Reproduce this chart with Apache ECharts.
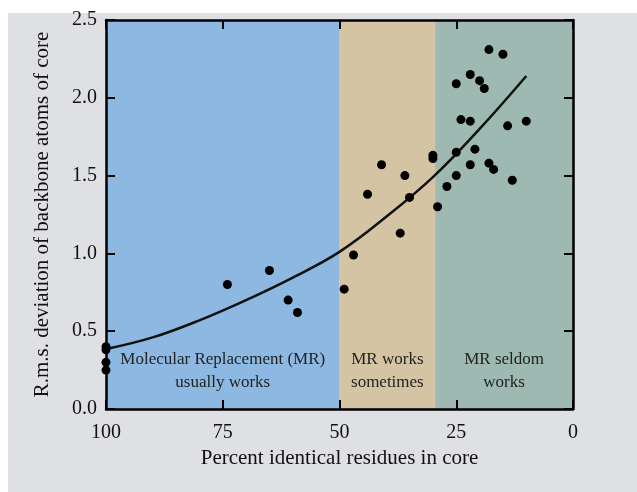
<!DOCTYPE html>
<html>
<head>
<meta charset="utf-8">
<script src="https://cdn.jsdelivr.net/npm/echarts@6/dist/echarts.min.js"></script>
<style>
html,body{margin:0;padding:0;background:#ffffff;}
#chart{width:637px;height:492px;}
</style>
</head>
<body>
<div id="chart"></div>
<script>
// Scatter data (percent identity, rms deviation)
const pointX = [18,15,22,20,25,19,24,22,14,10,21,25,30,30,41,22,18,17,36,25,13,27,44,35,29,37,47,49,74,65,61,59,100,100,100,100];
const pointY = [2.31,2.28,2.15,2.11,2.09,2.06,1.86,1.85,1.82,1.85,1.67,1.65,1.63,1.61,1.57,1.57,1.58,1.54,1.50,1.50,1.47,1.43,1.38,1.36,1.30,1.13,0.99,0.77,0.80,0.89,0.70,0.62,0.40,0.38,0.30,0.25];
// Trend curve
const fitX = [100,90,80,70,60,50,40,30,20,10];
const fitY = [0.385,0.46,0.57,0.70,0.845,1.01,1.235,1.49,1.80,2.14];
// Regions
const bandEdges = [100, 50, 29.5, 0];
const bandLabels = ['Molecular Replacement (MR)\nusually works', 'MR works\nsometimes', 'MR seldom\nworks'];
const bandColors = ['#8cb8e1', '#d4c4a3', '#9db9b2'];
const xTicks = [100, 75, 50, 25, 0];
const yTicks = [0.0, 0.5, 1.0, 1.5, 2.0, 2.5];

const font = '"Liberation Serif", "Times New Roman", serif';
const chart = echarts.init(document.getElementById('chart'), null, {renderer: 'canvas'});

const scatterData = pointX.map((x, i) => [x, pointY[i]]);
const fitData = fitX.map((x, i) => [x, fitY[i]]);
const areas = bandLabels.map((lab, i) => [
  {xAxis: bandEdges[i], itemStyle: {color: bandColors[i], opacity: 1},
   label: {show: true, formatter: lab}},
  {xAxis: bandEdges[i + 1]}
]);

const axisCommonX = {
  type: 'value', min: 0, max: 100, interval: 25, inverse: true, z: 10,
  axisLine: {show: true, onZero: false, lineStyle: {color: '#000', width: 2.5}},
  axisTick: {show: true, inside: true, length: 9, lineStyle: {color: '#000', width: 2}},
  splitLine: {show: false}
};
const axisCommonY = {
  type: 'value', min: 0, max: 2.5, interval: 0.5, z: 10,
  axisLine: {show: true, onZero: false, lineStyle: {color: '#000', width: 2.5}},
  axisTick: {show: true, inside: true, length: 9, lineStyle: {color: '#000', width: 2}},
  splitLine: {show: false}
};

chart.setOption({
  backgroundColor: '#ffffff',
  animation: false,
  graphic: [{
    type: 'rect', z: -100, silent: true,
    shape: {x: 8, y: 13, width: 629, height: 479},
    style: {fill: '#dfe0e4'}
  }],
  grid: {left: 106, right: 64, top: 20, bottom: 83},
  xAxis: [
    Object.assign({}, axisCommonX, {
      position: 'bottom',
      name: 'Percent identical residues in core',
      nameLocation: 'middle', nameGap: 39,
      nameTextStyle: {fontFamily: font, fontSize: 21, color: '#111'},
      axisLabel: {show: true, margin: 14, fontFamily: font, fontSize: 20, color: '#111',
        formatter: v => xTicks.includes(v) ? String(v) : ''}
    }),
    Object.assign({}, axisCommonX, {position: 'top', axisLabel: {show: false}})
  ],
  yAxis: [
    Object.assign({}, axisCommonY, {
      position: 'left',
      name: 'R.m.s. deviation of backbone atoms of core',
      nameLocation: 'middle', nameGap: 53,
      nameTextStyle: {fontFamily: font, fontSize: 21, color: '#111'},
      axisLabel: {show: true, margin: 9, fontFamily: font, fontSize: 20, color: '#111',
        formatter: v => yTicks.includes(v) ? v.toFixed(1) : ''}
    }),
    Object.assign({}, axisCommonY, {position: 'right', axisLabel: {show: false}})
  ],
  series: [
    {
      type: 'scatter', xAxisIndex: 0, yAxisIndex: 0,
      data: [], silent: true,
      markArea: {
        silent: true,
        label: {position: 'insideBottom', distance: 15, fontFamily: font, fontSize: 17,
          color: '#222', lineHeight: 23, align: 'center'},
        data: areas
      },
      z: 1
    },
    {
      type: 'line', xAxisIndex: 0, yAxisIndex: 0,
      data: fitData, smooth: 0.4, showSymbol: false, symbol: 'none',
      lineStyle: {color: '#111', width: 2.5}, z: 3
    },
    {
      type: 'scatter', xAxisIndex: 0, yAxisIndex: 0,
      data: scatterData, symbol: 'circle', symbolSize: 9,
      itemStyle: {color: '#000', opacity: 1}, z: 4
    }
  ]
});
</script>
</body>
</html>
